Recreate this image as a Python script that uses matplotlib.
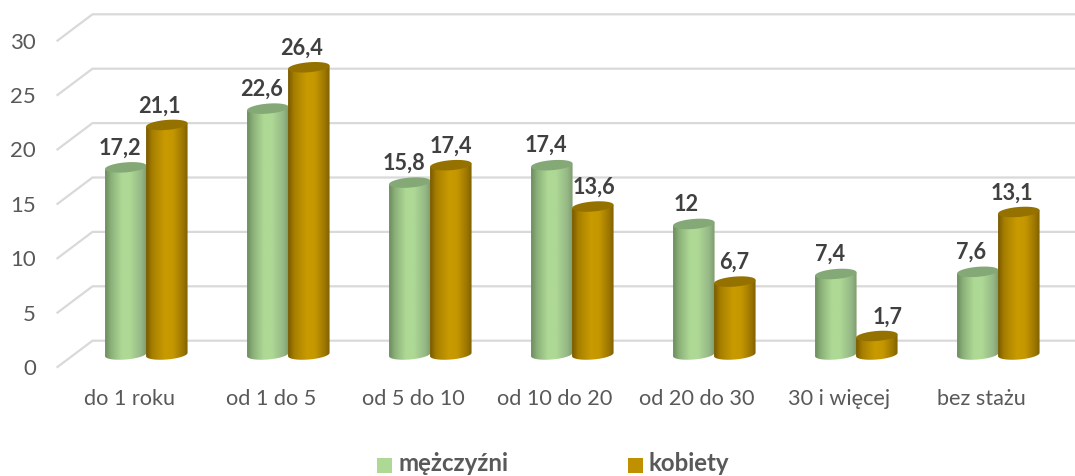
import numpy as np
import matplotlib
matplotlib.use('Agg')
import matplotlib.pyplot as plt
from matplotlib.colors import LinearSegmentedColormap
from matplotlib.patches import Polygon, Rectangle

# Dane
kategorie = ['do 1 roku', 'od 1 do 5', 'od 5 do 10', 'od 10 do 20', 'od 20 do 30', '30 i więcej', 'bez stażu']
mezczyzni = [17.2, 22.6, 15.8, 17.4, 12, 7.4, 7.6]
kobiety = [21.1, 26.4, 17.4, 13.6, 6.7, 1.7, 13.1]
etykiety_m = ['17,2', '22,6', '15,8', '17,4', '12', '7,4', '7,6']
etykiety_k = ['21,1', '26,4', '17,4', '13,6', '6,7', '1,7', '13,1']
skala_y = [0, 5, 10, 15, 20, 25, 30]

# przesuniecia etykiet w pikselach wzgledem srodka walca
przes_m = [-6, -6.5, -5.5, -6, -8, -6, -6.5]
przes_k = [-7, -7, 0, 1, -1, 11, -7]

W, H = 1075, 477
PX_X = 142.0    # pikseli na kategorie
PX_Y = 10.88    # pikseli na jednostke
X0 = 146.5      # srodek pierwszej grupy
Y0 = 355.5      # poziom zero walcow
SZER = 41.5

plt.rcParams['font.family'] = ['Lato', 'DejaVu Sans']

fig = plt.figure(figsize=(W / 100, H / 100), dpi=100)
ax = fig.add_axes([0, 0, 1, 1])
ax.axis('off')

# Siatka 3D: sciana boczna i tylna
dol_przod = -(368 - Y0) / PX_Y
dol_tyl = (Y0 - 341.7) / PX_Y
x_przod = (57.5 - X0) / PX_X
x_tyl = (92.5 - X0) / PX_X
x_kon = (W - X0) / PX_X
for v in skala_y:
    ax.plot([x_przod, x_tyl, x_kon], [v + dol_przod, v + dol_tyl, v + dol_tyl],
            color='#d9d9d9', lw=1.6, zorder=1, solid_joinstyle='miter')
    ax.text((36 - X0) / PX_X, v + dol_przod - 0.1, str(v), ha='right', va='center',
            fontsize=16, color='#595959')

for i, k in enumerate(kategorie):
    ax.text(i - 17.5 / PX_X, -(399 - Y0) / PX_Y, k, ha='center', va='center',
            fontsize=15.6, color='#595959')


def elipsa(xc, yc):
    # pochylona elipsa (piksele przeliczone na jednostki danych)
    t = np.linspace(0, 2 * np.pi, 80)
    px = SZER / 2 * np.cos(t)
    py = 5.0 * np.sin(t) + px * 0.08
    return np.column_stack([xc + px / PX_X, yc + py / PX_Y])


def walec(xc, v, kolory, gora, z):
    w = SZER / 2 / PX_X
    e_dol = elipsa(xc, 0)
    e_gora = elipsa(xc, v)
    dolna = e_dol[40:]  # od lewej przez dol do prawej
    obrys = np.vstack([e_gora[[40]], dolna, e_gora[[0]]])
    clip = Polygon(obrys, closed=True, transform=ax.transData, fc='none', ec='none')
    ax.add_patch(clip)
    cmap = LinearSegmentedColormap.from_list('w', kolory)
    grad = np.linspace(0, 1, 128).reshape(1, -1)
    im = ax.imshow(grad, cmap=cmap, aspect='auto', interpolation='bilinear',
                   extent=[xc - w, xc + w, -2, v + 2], zorder=z)
    im.set_clip_path(clip)
    ax.add_patch(Polygon(e_gora, closed=True, fc=gora, ec='none', zorder=z + 0.5))


kol_m = [(0, '#6a8c5c'), (0.14, '#8cb079'), (0.4, '#aed995'), (0.6, '#aed995'), (0.88, '#94b585'), (1, '#7c9c6c')]
kol_k = [(0, '#7a5a00'), (0.15, '#a67f00'), (0.45, '#c99b00'), (0.65, '#c49700'), (0.88, '#9c7700'), (1, '#7f6000')]

for i in range(len(kategorie)):
    z = 3 + i
    xm = i - 20.7 / PX_X
    xk = i + 20.3 / PX_X
    walec(xm, mezczyzni[i], kol_m, '#84a876', z)
    walec(xk, kobiety[i], kol_k, '#957200', z + 0.6)
    ax.text(xm + przes_m[i] / PX_X, mezczyzni[i] + 20.5 / PX_Y, etykiety_m[i], ha='center', va='center',
            fontsize=15.6, fontweight='bold', color='#404040', zorder=20)
    ax.text(xk + przes_k[i] / PX_X, kobiety[i] + 20 / PX_Y, etykiety_k[i], ha='center', va='center',
            fontsize=15.6, fontweight='bold', color='#404040', zorder=20)

# Legenda
fig.patches.append(Rectangle((377 / W, 1 - 474 / H), 15 / W, 15 / H, transform=fig.transFigure, fc='#aed995', ec='none'))
fig.patches.append(Rectangle((628 / W, 1 - 474 / H), 15 / W, 15 / H, transform=fig.transFigure, fc='#bf9000', ec='none'))
fig.text(399 / W, 1 - 471.5 / H, 'mężczyźni', ha='left', va='baseline', fontsize=17.3, fontweight='bold', color='#595959')
fig.text(649 / W, 1 - 471.5 / H, 'kobiety', ha='left', va='baseline', fontsize=17.3, fontweight='bold', color='#595959')

ax.set_xlim(-X0 / PX_X, (W - X0) / PX_X)
ax.set_ylim(-(H - Y0) / PX_Y, Y0 / PX_Y)

fig.savefig('out.png', dpi=100)
